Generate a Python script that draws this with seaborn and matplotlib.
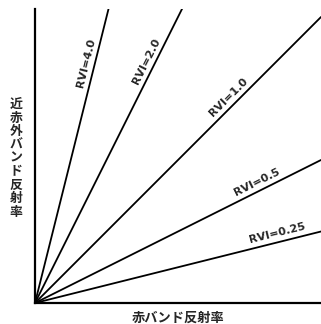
import numpy as np
import pandas as pd
import matplotlib
matplotlib.use("Agg")
import matplotlib.pyplot as plt
import seaborn as sns

rvi_values = [4.0, 2.0, 1.0, 0.5, 0.25]
rvi_labels = ["RVI=4.0", "RVI=2.0", "RVI=1.0", "RVI=0.5", "RVI=0.25"]
label_x = [0.208, 0.416, 0.697, 0.791, 0.855]
x_ends = [0.0, 1.0]
xlabel = "赤バンド反射率"
ylabel = "近赤外バンド反射率"

sns.set_theme(style="white")
plt.rcParams['font.family'] = ['Noto Sans CJK JP', 'DejaVu Sans']

rows = []
for r, lab in zip(rvi_values, rvi_labels):
    for x in x_ends:
        rows.append({"red": x, "nir": r * x, "line": lab})
df = pd.DataFrame(rows)

fig = plt.figure(figsize=(3.21, 3.24), dpi=100)
ax = fig.add_axes([35 / 321, 21 / 324, 286 / 321, 294 / 324])
sns.lineplot(data=df, x="red", y="nir", hue="line", palette=["black"] * 5,
             linewidth=1.3, legend=False, ax=ax, estimator=None, sort=False)
ax.set_xlim(0, 1.0)
ax.set_ylim(0, 294 / 286)
ax.set_xticks([])
ax.set_yticks([])
ax.set_xlabel("")
ax.set_ylabel("")
for s in ["top", "right"]:
    ax.spines[s].set_visible(False)
for s in ["left", "bottom"]:
    ax.spines[s].set_color("black")
    ax.spines[s].set_linewidth(1.6)

off = 6.3
for r, lab, lx in zip(rvi_values, rvi_labels, label_x):
    th = np.arctan(r)
    ax.annotate(lab, xy=(lx, r * lx), xytext=(-np.sin(th) * off, np.cos(th) * off),
                textcoords="offset points", ha="center", va="center",
                rotation=np.degrees(th), rotation_mode="anchor",
                fontsize=8, fontweight="bold", family="DejaVu Sans",
                annotation_clip=False)

fig.text(178 / 321, 1 - 318 / 324, xlabel, ha="center", va="center",
         fontsize=9.5, fontweight="bold")
fig.text(16 / 321, 1 - 158 / 324, "\n".join(ylabel), ha="center", va="center",
         fontsize=9.3, fontweight="bold", linespacing=0.95)

fig.savefig("out.png", dpi=100)
